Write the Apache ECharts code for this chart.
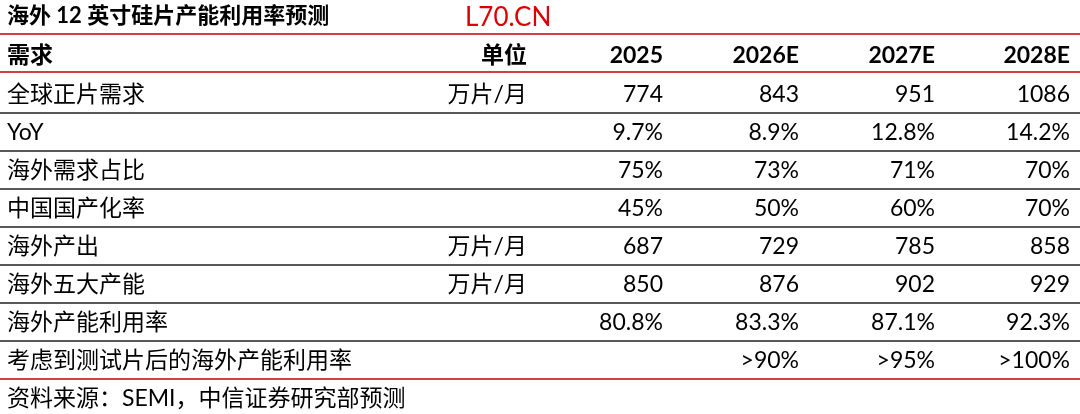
<!DOCTYPE html>
<html>
<head>
<meta charset="utf-8">
<script src="https://cdn.jsdelivr.net/npm/echarts@6/dist/echarts.min.js"></script>
<style>html,body{margin:0;padding:0;background:#fff}#c{width:1080px;height:414px}</style>
</head>
<body>
<div id="c"></div>
<script>
var title = '海外 12 英寸硅片产能利用率预测';
var headers = ['需求', '单位', '2025', '2026E', '2027E', '2028E'];
var rowNames = ['全球正片需求', 'YoY', '海外需求占比', '中国国产化率', '海外产出', '海外五大产能', '海外产能利用率', '考虑到测试片后的海外产能利用率'];
var units = ['万片/月', '', '', '', '万片/月', '万片/月', '', ''];
var v2025 = ['774', '9.7%', '75%', '45%', '687', '850', '80.8%', ''];
var v2026 = ['843', '8.9%', '73%', '50%', '729', '876', '83.3%', '>90%'];
var v2027 = ['951', '12.8%', '71%', '60%', '785', '902', '87.1%', '>95%'];
var v2028 = ['1086', '14.2%', '70%', '70%', '858', '929', '92.3%', '>100%'];
var source = '资料来源：SEMI，中信证券研究部预测';

var font = 'Lato, "Noto Sans CJK SC", sans-serif';
var colRight = [null, 527, 663, 799, 935, 1070];
var cols = [units, v2025, v2026, v2027, v2028];
var rowY = function (i) { return 95 + i * 38; };

var els = [];
function txt(x, y, s, align, bold, color, size) {
	els.push({ type: 'text', x: x, y: y, style: { text: s, textAlign: align, textVerticalAlign: 'middle', font: (bold ? 'bold ' : '') + (size || 23) + 'px ' + font, fill: color || '#000' } });
}
function line(y, color, w) {
	els.push({ type: 'line', shape: { x1: 0, y1: y, x2: 1080, y2: y }, style: { stroke: color, lineWidth: w } });
}
txt(7, 16, title, 'left', true, '#000', 22);
txt(465, 18, 'L70.CN', 'left', false, '#d00', 26);
line(34, '#c00000', 1.5);
line(72, '#c00000', 1.5);
headers.forEach(function (h, j) {
	if (j === 0) txt(7, 56, h, 'left', true);
	else txt(colRight[j], 56, h, 'right', true);
});
rowNames.forEach(function (n, i) {
	txt(7, rowY(i), n, 'left');
	cols.forEach(function (c, j) { if (c[i]) txt(colRight[j + 1], rowY(i), c[i], 'right'); });
	if (i < rowNames.length - 1) line(113 + i * 38, '#222', 1.5);
});
line(379, '#c00000', 1.5);
txt(7, 399, source, 'left');

var chart = echarts.init(document.getElementById('c'));
chart.setOption({ backgroundColor: '#fff', animation: false, graphic: els });
</script>
</body>
</html>
